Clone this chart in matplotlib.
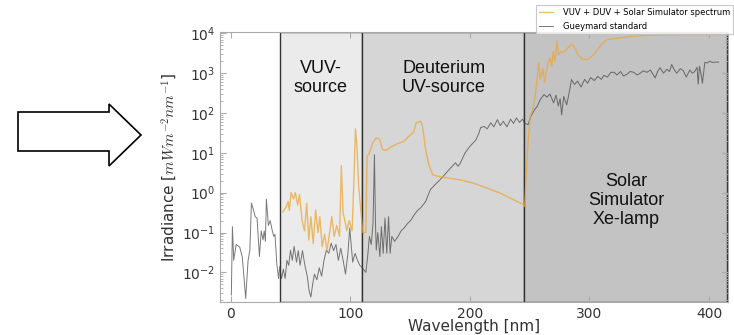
import numpy as np
import matplotlib
matplotlib.use('Agg')
import matplotlib.pyplot as plt
from matplotlib.patches import Polygon

# Gueymard standard (wavelength in nm, irradiance)
guey_nm = [0.5, 1.4, 2.5, 4.5, 7.5, 9.7, 12.5, 14.5, 16, 17.3, 19, 20.5, 22, 24, 25.5, 27, 28, 29, 29.8,
           31.5, 33, 34.5, 36, 37, 38.5, 40, 41, 42.5, 44, 45.5, 47, 48.5, 50, 51.5, 53, 55, 56.5, 58, 60,
           62, 64, 65.5, 67, 68.5, 70, 72, 74, 76, 78, 80, 82, 84, 86, 88, 90, 92, 94, 96, 98, 99.5, 102,
           104, 106, 108, 110, 113, 114.5, 116, 117.5, 119, 120.2, 121, 121.7, 123, 124.7, 126, 127.5,
           129, 130.5, 132, 133.3, 134.7, 137, 140, 142.5, 145, 148, 150.5, 153.5, 156, 159, 163, 167,
           171, 175, 180, 184, 188, 190, 192, 196, 200, 205, 207.5, 209, 212, 214.5, 217.5, 220, 223,
           225.5, 228, 231, 234, 236.5, 239, 241.5, 244, 246, 248.7, 251, 254, 256.5, 259, 262, 264.5,
           267, 270, 272, 274, 275.5, 276.7, 278.5, 281, 283, 285, 287.5, 290, 293, 296, 298.5, 301, 304,
           307, 310, 312, 315, 318, 320.7, 323, 326, 328.5, 331.5, 334, 337, 340, 342.5, 345, 348, 351,
           353, 355, 357, 359, 362, 364.7, 367, 368.8, 371, 373, 376, 378.5, 381, 384, 386, 388, 390,
           391, 392, 393.5, 394.5, 396.5, 398.5, 400.7, 403, 405, 408]
guey_val = [0.0027, 0.14, 0.02, 0.05, 0.043, 0.024, 0.0022, 0.02, 0.036, 0.55, 0.37, 0.25, 0.23, 0.025,
            0.11, 0.065, 0.11, 0.06, 0.69, 0.15, 0.2, 0.12, 0.08, 0.09, 0.017, 0.007, 0.014, 0.007, 0.012,
            0.007, 0.02, 0.015, 0.036, 0.02, 0.045, 0.018, 0.035, 0.015, 0.035, 0.015, 0.008, 0.0035,
            0.0024, 0.005, 0.009, 0.0065, 0.013, 0.008, 0.02, 0.036, 0.03, 0.054, 0.035, 0.05, 0.02, 0.04,
            0.02, 0.009, 0.03, 0.13, 0.018, 0.03, 0.02, 0.015, 0.013, 0.010, 0.025, 0.08, 0.05, 0.17, 9,
            0.2, 0.036, 0.1, 0.025, 0.14, 0.03, 0.23, 0.03, 0.25, 0.03, 0.08, 0.06, 0.08, 0.11, 0.13,
            0.17, 0.2, 0.28, 0.35, 0.42, 0.6, 1.2, 1.6, 2.1, 3.1, 4.2, 5.6, 4.6, 5.5, 10, 14.5, 21, 31,
            43, 46, 40, 57, 45, 68, 48, 62, 45, 70, 55, 75, 58, 70, 55, 51, 83, 120, 150, 220, 290, 250,
            300, 180, 280, 150, 230, 90, 260, 160, 320, 690, 520, 630, 450, 700, 560, 780, 650, 830, 700,
            880, 800, 1050, 1050, 900, 1100, 850, 940, 1100, 1050, 900, 1000, 1150, 1050, 1200, 950, 760,
            1100, 1380, 1000, 1250, 1100, 1650, 1200, 1000, 1300, 1150, 800, 1200, 1000, 1100, 1400, 530,
            1500, 900, 560, 1870, 1800, 2000, 1850, 1900, 1900]

# VUV + DUV + Solar Simulator spectrum
spec_nm = [43.7, 46.5, 48, 49, 50.5, 52.5, 54, 56, 57.5, 59.7, 61.7, 63.5, 65.3, 67, 69, 71, 73, 74.5,
           76.5, 78.5, 80.5, 82.5, 84.5, 86.5, 88.7, 91, 92.5, 94, 95.5, 97, 99, 101.5, 103, 104.3, 105.5,
           107, 109, 110.5, 113, 114, 116, 118.8, 121.7, 124.5, 127, 130, 134, 139.5, 145, 149, 153, 155,
           159, 160.5, 163, 166, 169, 173, 181, 192, 203, 214.5, 225.5, 236.7, 245, 245.8, 247.7, 249,
           250.5, 252.7, 254.6, 256.5, 257.5, 259, 261, 262.5, 265, 267, 268.5, 269.7, 271, 273, 274, 276,
           278, 281, 285, 287, 290, 294.5, 298.7, 304, 310, 315, 321, 330, 337, 350, 370, 390, 412]
spec_val = [0.33, 0.45, 0.6, 0.36, 1.0, 0.7, 1.0, 0.49, 0.9, 0.2, 0.11, 0.54, 0.065, 0.25, 0.053, 0.37,
            0.1, 0.25, 0.044, 0.09, 0.035, 0.09, 0.25, 0.08, 0.15, 0.08, 4.8, 0.3, 0.2, 0.11, 0.2, 0.11,
            2, 40, 15, 1.5, 0.3, 0.1, 0.1, 8, 10, 18, 24, 22, 12, 11.5, 14, 17, 19.5, 26, 33, 56, 62, 45,
            12, 4.6, 2.8, 2.6, 2.35, 2.1, 1.73, 1.3, 0.97, 0.66, 0.5, 0.45, 5.6, 26, 83, 120, 260, 830,
            1850, 700, 1300, 600, 1600, 2400, 1500, 3600, 2000, 6400, 2800, 3500, 3300, 4000, 5300, 4700,
            3000, 2200, 2200, 3000, 5300, 7000, 7400, 8000, 8500, 9000, 9200, 9300, 9300]

# source regions
region_edges = [41, 110, 245.5, 415]
region_colors = ['#ebebeb', '#d6d6d6', '#c3c3c3']
region_labels = ['VUV-\nsource', 'Deuterium\nUV-source', 'Solar\nSimulator\nXe-lamp']
label_x = [75, 178, 331]
label_y = [740, 740, 0.63]

fig = plt.figure(figsize=(7.34, 3.35), dpi=100)
ax = fig.add_axes([0.2997, 0.0985, 0.6923, 0.8045])

for i in range(3):
    ax.axvspan(region_edges[i], region_edges[i + 1], facecolor=region_colors[i],
               edgecolor='#333333', linewidth=1, zorder=0)

ax.plot(spec_nm, spec_val, color='#eaa838', alpha=0.75, lw=1.0,
        label='VUV + DUV + Solar Simulator spectrum', zorder=3)
ax.plot(guey_nm, guey_val, color='#404040', alpha=0.7, lw=0.7,
        label='Gueymard standard', zorder=2)

for t, xx, yy in zip(region_labels, label_x, label_y):
    ax.text(xx, yy, t, ha='center', va='center', fontsize=13, color='#111111',
            family='Liberation Sans', linespacing=1.15, zorder=4)

ax.set_yscale('log')
ax.set_xlim(-9, 416)
ax.set_ylim(1.8e-3, 1.05e4)
ax.set_xticks([0, 100, 200, 300, 400])
ax.set_yticks([1e-2, 1e-1, 1e0, 1e1, 1e2, 1e3, 1e4])

for s in ax.spines.values():
    s.set_color('#aaaaaa')
ax.tick_params(which='both', direction='in', top=True, right=True, colors='#aaaaaa',
               labelcolor='#333333', labelsize=10)
ax.tick_params(which='major', length=4)
ax.tick_params(which='minor', length=2)

ax.set_xlabel('Wavelength [nm]', fontsize=11, color='#333333', labelpad=-1)
ax.set_ylabel('Irradiance [$mWm^{-2}nm^{-1}$]', fontsize=11, color='#333333', labelpad=2,
              math_fontfamily='cm')

leg = ax.legend(loc='lower right', bbox_to_anchor=(1.01, 0.995), borderaxespad=0,
                fontsize=6, handlelength=1.6, handletextpad=1.2, frameon=True, fancybox=False)
leg.get_frame().set_edgecolor('#bbbbbb')
leg.get_frame().set_linewidth(0.8)

# the big outline arrow on the left
arrow_px = [(18, 112), (109, 112), (109, 104), (141, 135), (109, 166), (109, 151), (18, 151)]
arrow = Polygon([(x / 734, 1 - y / 335) for x, y in arrow_px], closed=True,
                facecolor='white', edgecolor='black', lw=1.2, transform=fig.transFigure)
fig.patches.append(arrow)

fig.savefig('out.png', dpi=100)
